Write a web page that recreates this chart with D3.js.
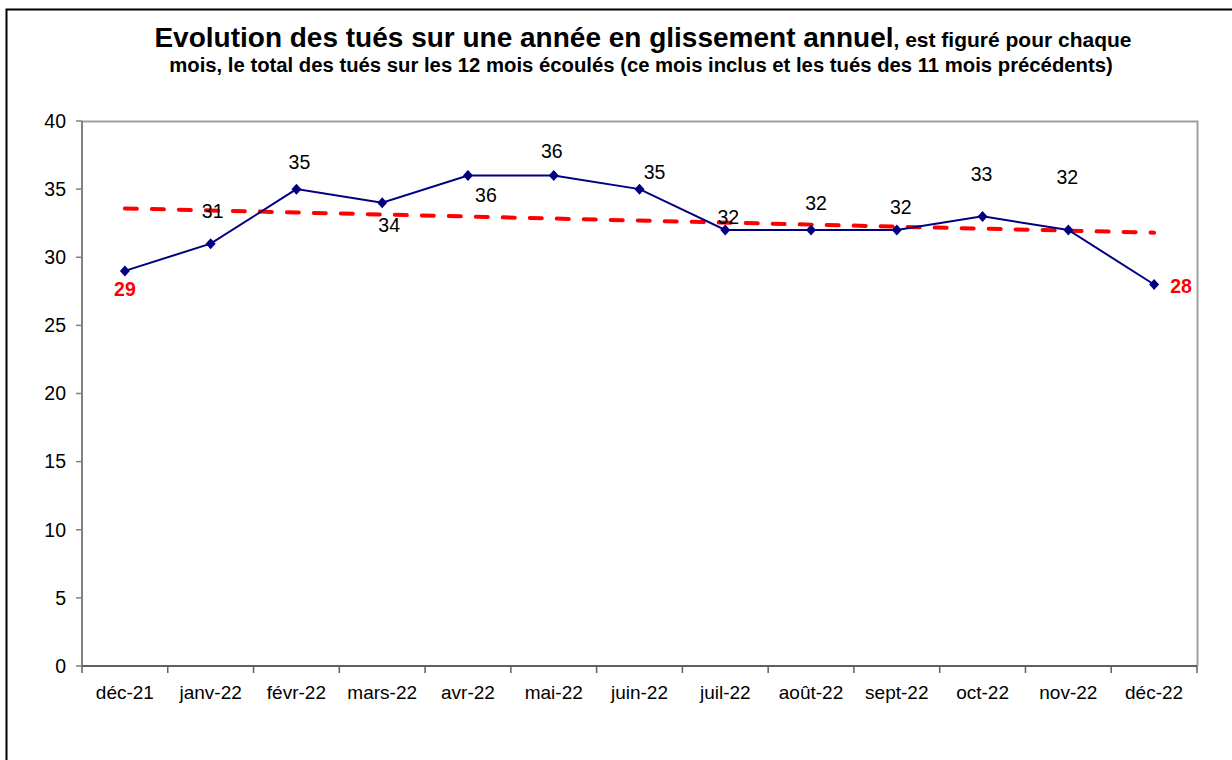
<!DOCTYPE html>
<html>
<head>
<meta charset="utf-8">
<script src="https://cdn.jsdelivr.net/npm/d3@7"></script>
<style>
  body { margin: 0; background: #fff; }
  svg { display: block; font-family: "Liberation Sans", Arial, sans-serif; }
</style>
</head>
<body>
<svg width="1232" height="760"></svg>
<script>
// months and number of deaths over 12 rolling months
var months = ["déc-21", "janv-22", "févr-22", "mars-22", "avr-22", "mai-22", "juin-22",
              "juil-22", "août-22", "sept-22", "oct-22", "nov-22", "déc-22"];
var tues = [29, 31, 35, 34, 36, 36, 35, 32, 32, 32, 33, 32, 28];
var yTicks = [0, 5, 10, 15, 20, 25, 30, 35, 40];

// where each value label sits relative to its point (layout only)
var labelOffsets = [[0, 18], [2, -32], [3, -27], [7, 22], [18, 20], [-2, -24], [15, -17],
                    [3, -13], [5, -27], [4, -23], [-1, -42], [-1, -53], [27, 2]];

var svg = d3.select("svg");

// outer frame of the original sheet
svg.append("path")
    .attr("d", "M6.5,760 V9.5 H1232")
    .attr("fill", "none")
    .attr("stroke", "#000")
    .attr("stroke-width", 2);

var plotLeft = 82, plotRight = 1197, plotTop = 121, plotBottom = 666;

var x = d3.scaleBand()
    .domain(months)
    .range([plotLeft, plotRight])
    .padding(0);

var y = d3.scaleLinear()
    .domain([0, 40])
    .range([plotBottom, plotTop]);

function cx(i) { return x(months[i]) + x.bandwidth() / 2; }

// title
var title = svg.append("text")
    .attr("x", 643)
    .attr("y", 47)
    .attr("text-anchor", "middle")
    .attr("font-weight", "bold");
title.append("tspan").attr("font-size", 28).text("Evolution des tués sur une année en glissement annuel");
title.append("tspan").attr("font-size", 21).text(", est figuré pour chaque");

svg.append("text")
    .attr("x", 641)
    .attr("y", 72)
    .attr("text-anchor", "middle")
    .attr("font-weight", "bold")
    .attr("font-size", 20.3)
    .text("mois, le total des tués sur les 12 mois écoulés (ce mois inclus et les tués des 11 mois précédents)");

// plot border (top and right)
svg.append("path")
    .attr("d", "M" + plotLeft + "," + (plotTop + 0.5) + " H" + (plotRight + 0.5) + " V" + plotBottom)
    .attr("fill", "none")
    .attr("stroke", "#a0a0a0")
    .attr("stroke-width", 2);

// y axis
var yAxis = svg.append("g").attr("class", "y-axis");
yAxis.append("line")
    .attr("x1", plotLeft).attr("x2", plotLeft)
    .attr("y1", plotTop).attr("y2", plotBottom)
    .attr("stroke", "#808080")
    .attr("stroke-width", 2);
yAxis.selectAll("line.tick")
  .data(yTicks)
  .enter().append("line")
    .attr("class", "tick")
    .attr("x1", plotLeft - 6).attr("x2", plotLeft)
    .attr("y1", function(d) { return y(d); })
    .attr("y2", function(d) { return y(d); })
    .attr("stroke", "#808080")
    .attr("stroke-width", 1.5);
yAxis.selectAll("text")
  .data(yTicks)
  .enter().append("text")
    .attr("x", plotLeft - 16)
    .attr("y", function(d) { return y(d); })
    .attr("dy", "0.35em")
    .attr("text-anchor", "end")
    .attr("font-size", 19.5)
    .text(function(d) { return d; });

// x axis
var xAxis = svg.append("g").attr("class", "x-axis");
xAxis.append("line")
    .attr("x1", plotLeft).attr("x2", plotRight)
    .attr("y1", plotBottom).attr("y2", plotBottom)
    .attr("stroke", "#606060")
    .attr("stroke-width", 2);
xAxis.selectAll("line.tick")
  .data(months.concat([null]))
  .enter().append("line")
    .attr("class", "tick")
    .attr("x1", function(d) { return d === null ? plotRight : x(d); })
    .attr("x2", function(d) { return d === null ? plotRight : x(d); })
    .attr("y1", plotBottom).attr("y2", plotBottom + 7)
    .attr("stroke", "#606060")
    .attr("stroke-width", 1.5);
xAxis.selectAll("text")
  .data(months)
  .enter().append("text")
    .attr("x", function(d) { return x(d) + x.bandwidth() / 2; })
    .attr("y", plotBottom + 26)
    .attr("dy", "0.35em")
    .attr("text-anchor", "middle")
    .attr("font-size", 19)
    .text(function(d) { return d; });

// linear trend line (least squares over the 13 months)
var n = tues.length;
var meanX = d3.mean(d3.range(n));
var meanY = d3.mean(tues);
var sxy = d3.sum(tues, function(v, i) { return (i - meanX) * (v - meanY); });
var sxx = d3.sum(d3.range(n), function(i) { return (i - meanX) * (i - meanX); });
var slope = sxy / sxx;
var intercept = meanY - slope * meanX;

svg.append("line")
    .attr("x1", cx(0))
    .attr("y1", y(intercept))
    .attr("x2", cx(n - 1))
    .attr("y2", y(intercept + slope * (n - 1)))
    .attr("stroke", "#ff0000")
    .attr("stroke-width", 4)
    .attr("stroke-linecap", "round")
    .attr("stroke-dasharray", "12,15");

// series line
var line = d3.line()
    .x(function(d, i) { return cx(i); })
    .y(function(d) { return y(d); });

svg.append("path")
    .datum(tues)
    .attr("d", line)
    .attr("fill", "none")
    .attr("stroke", "#000080")
    .attr("stroke-width", 2);

svg.selectAll("path.marker")
  .data(tues)
  .enter().append("path")
    .attr("class", "marker")
    .attr("d", "M0,-5.5 L5,0 L0,5.5 L-5,0 Z")
    .attr("transform", function(d, i) { return "translate(" + cx(i) + "," + y(d) + ")"; })
    .attr("fill", "#000080");

// value labels: first and last in bold red
svg.selectAll("text.value")
  .data(tues)
  .enter().append("text")
    .attr("class", "value")
    .attr("x", function(d, i) { return cx(i) + labelOffsets[i][0]; })
    .attr("y", function(d, i) { return y(d) + labelOffsets[i][1]; })
    .attr("dy", "0.35em")
    .attr("text-anchor", "middle")
    .attr("font-size", 19.5)
    .attr("font-weight", function(d, i) { return (i === 0 || i === n - 1) ? "bold" : "normal"; })
    .attr("fill", function(d, i) { return (i === 0 || i === n - 1) ? "#ff0000" : "#000"; })
    .text(function(d) { return d; });
</script>
</body>
</html>
